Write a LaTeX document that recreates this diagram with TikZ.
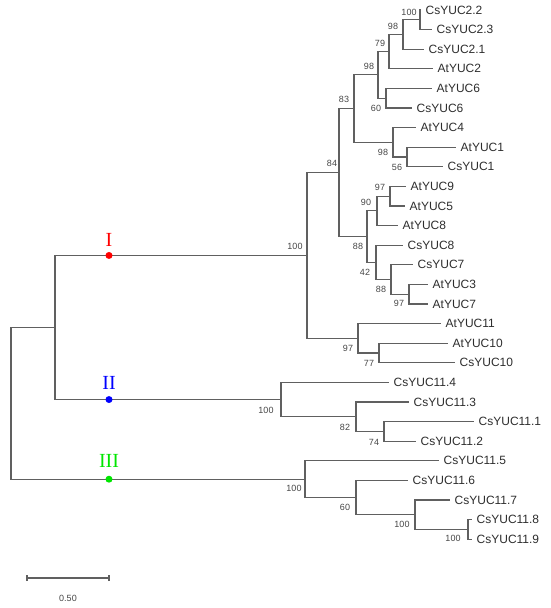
\documentclass[tikz,border=0pt]{standalone}
\usepackage{fontspec}
\setmainfont{Liberation Sans}
\newfontfamily\romanfont{Liberation Serif}
\definecolor{brgray}{RGB}{96,96,96}
\definecolor{txtgray}{RGB}{45,45,45}
\definecolor{bsgray}{RGB}{70,70,70}
\definecolor{cladeIII}{RGB}{0,230,0}
\begin{document}
\begin{tikzpicture}[x=1pt,y=-1pt,
  br/.style={draw=brgray, line width=1.1pt},
  leaf/.style={anchor=west, inner sep=0pt, xshift=4.5pt, font=\fontsize{12}{12}\selectfont, text=txtgray},
  bs/.style={inner sep=0pt, font=\fontsize{9}{9}\selectfont, text=bsgray},
  cladelab/.style={inner sep=0pt, font=\romanfont\fontsize{20}{20}\selectfont},
  cdot/.style={circle, inner sep=0pt, minimum size=7pt}]
\useasboundingbox (0,0) rectangle (550,608);
% leaves
\foreach \i/\x in {0/421,1/432,2/424,3/433,4/432,5/412,6/416,7/456,8/443,9/406,10/405,11/398,12/403,13/413,14/428,15/428,16/441,17/448,18/455,19/389,20/409,21/474,22/416,23/439,24/408,25/450,26/472,27/472}
  \coordinate (l\i) at (\x,{10+19.6*\i});
% internal nodes
\coordinate (root) at (11,403.35);
\coordinate (nIn) at (55,327.5);
\coordinate (nI) at (307,255.45);
\coordinate (nII) at (281,399.55);
\coordinate (nIII) at (305,479.2);
\coordinate (n84) at (339,172.6);
\coordinate (n83) at (354,108.6);
\coordinate (n98b) at (378,74.9);
\coordinate (n79) at (389,51.65);
\coordinate (n98a) at (403,34.5);
\coordinate (n100a) at (420,19.8);
\coordinate (n60a) at (386,98.2);
\coordinate (n98c) at (393,142.3);
\coordinate (n56) at (407,157);
\coordinate (n88a) at (367,236.6);
\coordinate (n90) at (377,210.9);
\coordinate (n97a) at (390,196.2);
\coordinate (n42) at (376,262.35);
\coordinate (n88b) at (391,279.5);
\coordinate (n97b) at (409,294.2);
\coordinate (n97c) at (358,338.3);
\coordinate (n77) at (379,353);
\coordinate (n82) at (356,416.7);
\coordinate (n74) at (384,431.4);
\coordinate (n60b) at (356,497.55);
\coordinate (n100d) at (415,514.7);
\coordinate (n100e) at (468,529.4);
% branches
\foreach \p/\c in {root/nIn,root/nIII,nIn/nI,nIn/nII,nI/n84,nI/n97c,n84/n83,n84/n88a,
  n83/n98b,n83/n98c,n98b/n79,n98b/n60a,n79/n98a,n79/l3,n98a/n100a,n98a/l2,n100a/l0,n100a/l1,
  n60a/l4,n60a/l5,n98c/l6,n98c/n56,n56/l7,n56/l8,n88a/n90,n88a/n42,n90/n97a,n90/l11,
  n97a/l9,n97a/l10,n42/l12,n42/n88b,n88b/l13,n88b/n97b,n97b/l14,n97b/l15,n97c/l16,n97c/n77,
  n77/l17,n77/l18,nII/l19,nII/n82,n82/l20,n82/n74,n74/l21,n74/l22,nIII/l23,nIII/n60b,
  n60b/l24,n60b/n100d,n100d/l25,n100d/n100e,n100e/l26,n100e/l27}
  \draw[br] (\p) |- (\c);
% leaf labels
\foreach \i/\t in {0/CsYUC2.2,1/CsYUC2.3,2/CsYUC2.1,3/AtYUC2,4/AtYUC6,5/CsYUC6,6/AtYUC4,7/AtYUC1,8/CsYUC1,9/AtYUC9,10/AtYUC5,11/AtYUC8,12/CsYUC8,13/CsYUC7,14/AtYUC3,15/AtYUC7,16/AtYUC11,17/AtYUC10,18/CsYUC10,19/CsYUC11.4,20/CsYUC11.3,21/CsYUC11.1,22/CsYUC11.2,23/CsYUC11.5,24/CsYUC11.6,25/CsYUC11.7,26/CsYUC11.8,27/CsYUC11.9}
  \node[leaf] (t\i) at (l\i) {\t};
% bootstrap values
\foreach \x/\y/\v [count=\k] in {409/12/100,393/26/98,380/43/79,369/66/98,376/108/60,344/99/83,332/163/84,383/152/98,397/167/56,380/187/97,366/202/90,295/246/100,358/246/88,365/272/42,381/289/88,399/303/97,348/348/97,369/363/77,266/410/100,345/427/82,374/442/74,294/488/100,345/507/60,402/524/100,453/538/100}
  \node[bs] (b\k) at (\x,\y) {\v};
% clade markers
\node[cdot, fill=red] (dI) at (109,0 |- nI) {};
\node[cdot, fill=blue] (dII) at (109,0 |- nII) {};
\node[cdot, fill=cladeIII] (dIII) at (109,0 |- nIII) {};
\node[cladelab, text=red] (cI) at (109,240) {I};
\node[cladelab, text=blue] (cII) at (109,383) {II};
\node[cladelab, text=cladeIII] (cIII) at (109,461) {III};
% scale bar
\coordinate (sb1) at (27,578);
\coordinate (sb2) at (109,578);
\draw[br] (sb1) -- (sb2);
\draw[br] ([yshift=-3pt]sb1) -- ([yshift=3pt]sb1);
\draw[br] ([yshift=-3pt]sb2) -- ([yshift=3pt]sb2);
\node[bs] (sbl) at (68,598) {0.50};
\end{tikzpicture}
\end{document}
